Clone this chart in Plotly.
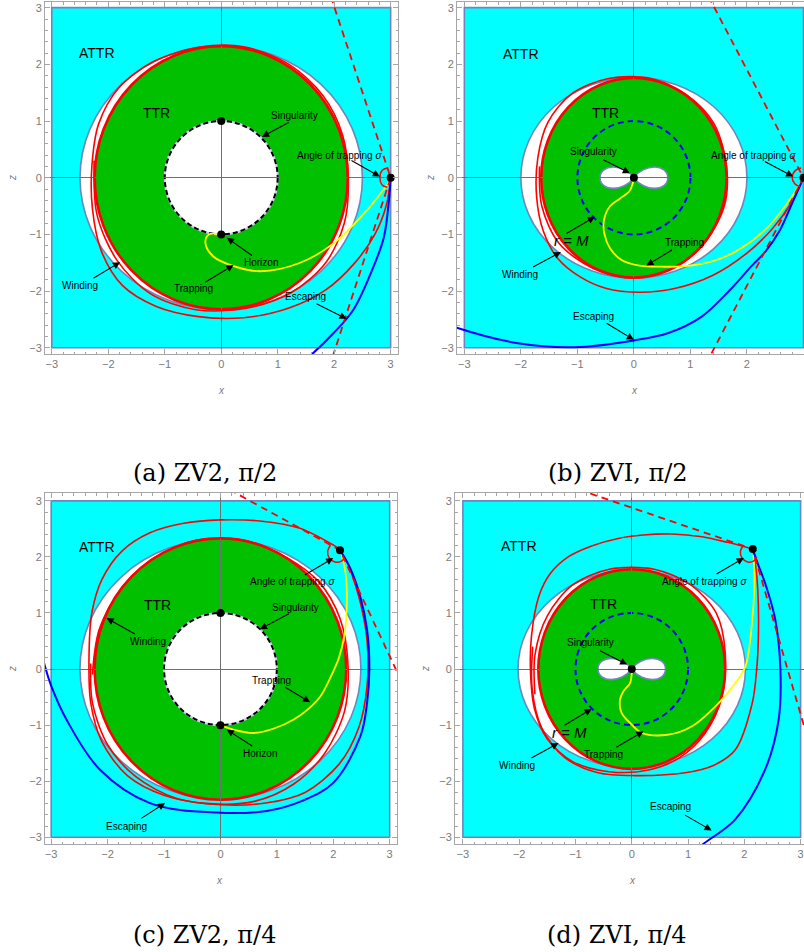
import plotly.graph_objects as go

# ---------------------------------------------------------------- data
panel_ids = ["a", "b", "c", "d"]
captions = ["(a) ZV2, π/2", "(b) ZVI, π/2", "(c) ZV2, π/4", "(d) ZVI, π/4"]
tick_values = [-3, -2, -1, 0, 1, 2, 3]

attr_box = [-3.0, 3.0, -3.0, 3.0]                 # x0, x1, y0, y1 of ATTR region
white_semi_x = [2.50, 2.00, 2.49, 2.02]
white_semi_y = [2.33, 1.77, 2.32, 1.76]
ttr_semi_x = [2.24, 1.64, 2.23, 1.66]
ttr_semi_y = [2.32, 1.76, 2.33, 1.78]
inner_radius = [1.0, 1.0, 1.0, 1.0]
lemni_half_width = [0.0, 0.60, 0.0, 0.60]
lemni_half_height = [0.0, 0.19, 0.0, 0.19]

# --- panel a (ZV2, pi/2)
winding_a_x = [3.0, 2.92, 2.72, 2.35, 1.85, 1.2, 0.4, -0.4, -1.15, -1.75, -2.12, -2.28, -2.29, -2.17, -1.82, -1.2, -0.4, 0.4, 1.2, 1.8, 2.15, 2.25, 2.18, 1.85, 1.25, 0.45, -0.45, -1.25, -1.85, -2.2, -2.25]
winding_a_y = [0.0, -0.5, -1.0, -1.52, -1.98, -2.3, -2.47, -2.45, -2.27, -1.9, -1.3, -0.55, 0.2, 0.95, 1.58, 2.05, 2.3, 2.31, 2.0, 1.45, 0.75, 0.0, -0.8, -1.5, -2.02, -2.3, -2.33, -2.05, -1.45, -0.65, 0.3]
yellow_a_x = [2.97, 2.6, 2.0, 1.4, 0.69, 0.22, -0.14, -0.28, -0.22, 0.0]
yellow_a_y = [-0.08, -0.55, -1.15, -1.5, -1.65, -1.56, -1.39, -1.15, -1.0, -1.0]
blue_a_x = [3.0, 2.97, 2.88, 2.7, 2.34, 1.99, 1.6, 1.5]
blue_a_y = [0.0, -0.4, -1.05, -1.56, -2.33, -2.74, -3.12, -3.2]
dashed_a_x = [1.94, 3.0, 1.96]
dashed_a_y = [3.2, 0.0, -3.2]
arc_a_x = [2.95, 2.85, 2.81, 2.85, 2.94]
arc_a_y = [0.17, 0.13, 0.0, -0.13, -0.17]
dots_a_x = [0.0, 0.0, 3.0]
dots_a_y = [1.0, -1.0, 0.0]
labels_a = [("ATTR", -2.2, 2.2), ("TTR", -1.14, 1.14), ("Singularity", 1.29, 1.1),
            ("Angle of trapping <i>σ</i>", 2.1, 0.39), ("Horizon", 0.7, -1.49),
            ("Trapping", -0.49, -1.95), ("Winding", -2.5, -1.9), ("Escaping", 1.49, -2.09)]
arrows_a = [(1.22, 0.99, 0.72, 0.72), (2.28, 0.32, 2.81, 0.02), (0.57, -1.39, 0.1, -1.06),
            (-0.31, -1.86, 0.22, -1.54), (-2.29, -1.79, -1.79, -1.49), (1.66, -2.21, 2.22, -2.49)]

# --- panel b (ZVI, pi/2)
winding_b_x = [3.0, 2.8, 2.45, 2.0, 1.4, 0.7, 0.1, -0.5, -0.95, -1.35, -1.6, -1.72, -1.7, -1.52, -1.1, -0.45, 0.3, 0.95, 1.42, 1.64, 1.6, 1.25, 0.72, 0.0, -0.72, -1.33, -1.63, -1.67]
winding_b_y = [0.0, -0.42, -0.9, -1.33, -1.72, -1.96, -2.02, -1.95, -1.75, -1.42, -0.95, -0.35, 0.35, 0.98, 1.48, 1.75, 1.75, 1.45, 0.95, 0.2, -0.5, -1.15, -1.58, -1.77, -1.6, -1.15, -0.5, 0.2]
yellow_b_x = [2.95, 2.38, 1.8, 1.4, 0.9, 0.5, 0.1, -0.22, -0.42, -0.52, -0.53, -0.42, -0.25, -0.08, -0.02, 0.0]
yellow_b_y = [-0.1, -0.86, -1.3, -1.47, -1.56, -1.57, -1.55, -1.45, -1.25, -1.0, -0.75, -0.5, -0.37, -0.24, -0.1, 0.0]
blue_b_x = [3.0, 2.8, 2.57, 2.33, 2.08, 1.7, 1.2, 0.61, 0.0, -1.04, -2.05, -3.12, -3.25]
blue_b_y = [0.0, -0.45, -0.95, -1.3, -1.56, -1.98, -2.45, -2.74, -2.87, -2.99, -2.92, -2.65, -2.6]
dashed_b_x = [1.32, 3.0, 1.32]
dashed_b_y = [3.2, 0.0, -3.2]
arc_b_x = [2.96, 2.86, 2.8, 2.85, 2.94]
arc_b_y = [0.17, 0.13, 0.01, -0.11, -0.16]
dots_b_x = [0.0, 3.0]
dots_b_y = [0.0, 0.0]
labels_b = [("ATTR", -1.99, 2.19), ("TTR", -0.5, 1.14), ("Singularity", -0.72, 0.46),
            ("Angle of trapping <i>σ</i>", 2.11, 0.39), ("<i>r</i> = <i>M</i>", -1.1, -1.11),
            ("Winding", -2.02, -1.7), ("Trapping", 0.9, -1.15), ("Escaping", -0.71, -2.45)]
arrows_b = [(-0.57, 0.33, -0.07, 0.08), (2.29, 0.3, 2.82, 0.02), (-1.22, -1.0, -0.69, -0.69),
            (-1.81, -1.59, -1.29, -1.31), (0.7, -1.26, 0.22, -1.55), (-0.51, -2.55, 0.0, -2.86)]

# --- panel c (ZV2, pi/4)
winding_c1_x = [2.12, 1.41, 0.7, 0.0, -0.65, -1.25, -1.75, -2.1, -2.28, -2.33, -2.3, -2.1, -1.65, -1.0, -0.2, 0.6, 1.3, 1.85, 2.2, 2.26, 2.12, 1.75, 1.15, 0.4, -0.4, -1.15, -1.75, -2.15, -2.27]
winding_c1_y = [2.14, 2.51, 2.64, 2.66, 2.6, 2.43, 2.1, 1.6, 1.0, 0.2, -0.6, -1.3, -1.9, -2.25, -2.4, -2.36, -2.05, -1.5, -0.75, 0.1, 0.9, 1.55, 2.0, 2.3, 2.3, 2.0, 1.45, 0.7, -0.1]
winding_c2_x = [2.12, 2.25, 2.36, 2.5, 2.6, 2.6, 2.45, 2.1, 1.5, 0.8, 0.0, -0.8, -1.5, -2.0, -2.27, -2.3]
winding_c2_y = [2.12, 1.9, 1.6, 1.1, 0.5, -0.3, -1.05, -1.7, -2.2, -2.39, -2.42, -2.3, -1.92, -1.35, -0.6, 0.1]
yellow_c_x = [2.14, 2.22, 2.24, 2.2, 2.1, 1.95, 1.77, 1.55, 1.3, 0.95, 0.59, 0.23, 0.0]
yellow_c_y = [2.08, 1.7, 1.18, 0.62, 0.2, -0.15, -0.49, -0.72, -0.9, -1.06, -1.14, -1.08, -1.0]
blue_c_x = [2.12, 2.3, 2.48, 2.6, 2.64, 2.6, 2.48, 2.0, 1.45, 0.82, -0.07, -1.25, -2.14, -2.73, -3.0, -3.11, -3.16]
blue_c_y = [2.12, 1.8, 1.29, 0.7, 0.0, -0.6, -1.2, -2.03, -2.35, -2.53, -2.56, -2.39, -1.79, -0.9, -0.3, 0.05, 0.25]
dashed_c_x = [0.16, 2.12, 3.2]
dashed_c_y = [3.2, 2.12, -0.2]
arc_c_x = [1.95, 1.9, 1.93, 2.03, 2.14, 2.2]
arc_c_y = [2.21, 2.1, 1.98, 1.91, 1.92, 1.98]
dots_c_x = [0.0, 0.0, 2.12]
dots_c_y = [1.0, -1.0, 2.12]
labels_c = [("ATTR", -2.18, 2.18), ("TTR", -1.11, 1.15), ("Angle of trapping <i>σ</i>", 1.27, 1.56),
            ("Singularity", 1.33, 1.1), ("Winding", -1.28, 0.49), ("Trapping", 0.91, -0.2),
            ("Horizon", 0.7, -1.51), ("Escaping", -1.66, -2.8)]
arrows_c = [(1.47, 1.66, 2.0, 1.98), (1.24, 1.0, 0.7, 0.71), (-1.49, 0.61, -2.02, 0.91),
            (1.12, -0.31, 1.59, -0.59), (0.59, -1.39, 0.11, -1.08), (-1.43, -2.68, -0.98, -2.39)]

# --- panel d (ZVI, pi/4)
winding_d1_x = [2.15, 1.7, 1.25, 0.71, 0.2, -0.24, -0.7, -1.13, -1.45, -1.65, -1.78, -1.8, -1.73, -1.5, -1.05, -0.4, 0.3, 0.85, 1.3, 1.6, 1.66, 1.5, 1.05, 0.4, -0.4, -1.05, -1.5, -1.72, -1.72]
winding_d1_y = [2.14, 2.26, 2.36, 2.41, 2.39, 2.33, 2.2, 2.0, 1.7, 1.3, 0.6, 0.0, -0.7, -1.25, -1.65, -1.83, -1.8, -1.58, -1.15, -0.5, 0.3, 1.0, 1.5, 1.78, 1.78, 1.5, 0.95, 0.25, -0.45]
winding_d2_x = [2.15, 2.2, 2.24, 2.25, 2.22, 2.14, 1.84, 1.45, 0.95, 0.06, -0.6, -1.2, -1.6, -1.77, -1.76]
winding_d2_y = [2.14, 1.85, 1.4, 0.58, 0.0, -0.61, -1.44, -1.72, -1.85, -1.9, -1.85, -1.57, -1.05, -0.35, 0.4]
yellow_d_x = [2.16, 2.18, 2.14, 2.02, 1.84, 1.54, 1.07, 0.65, 0.18, 0.0, -0.18, -0.21, -0.15, -0.03, 0.0, 0.0]
yellow_d_y = [2.04, 1.59, 0.88, 0.05, -0.25, -0.61, -1.02, -1.17, -1.14, -0.99, -0.78, -0.55, -0.4, -0.25, -0.08, 0.0]
blue_d_x = [2.15, 2.25, 2.37, 2.55, 2.64, 2.61, 2.37, 1.84, 1.22, 1.15]
blue_d_y = [2.14, 1.85, 1.53, 0.88, 0.0, -0.9, -1.79, -2.68, -3.16, -3.25]
dashed_d_x = [-0.94, 2.15, 3.2]
dashed_d_y = [3.2, 2.14, -1.5]
arc_d_x = [1.98, 1.93, 1.96, 2.06, 2.17, 2.22]
arc_d_y = [2.2, 2.1, 1.98, 1.91, 1.93, 2.0]
dots_d_x = [0.0, 2.15]
dots_d_y = [0.0, 2.14]
labels_d = [("ATTR", -2.0, 2.2), ("TTR", -0.5, 1.16), ("Angle of trapping <i>σ</i>", 1.29, 1.57),
            ("Singularity", -0.73, 0.47), ("<i>r</i> = <i>M</i>", -1.1, -1.13),
            ("Winding", -2.03, -1.72), ("Trapping", -0.5, -1.53), ("Escaping", 0.68, -2.46)]
arrows_d = [(1.48, 1.68, 1.99, 1.98), (-0.59, 0.34, -0.08, 0.08), (-1.22, -1.02, -0.71, -0.71),
            (-1.81, -1.6, -1.3, -1.32), (-0.3, -1.41, 0.21, -1.11), (0.92, -2.59, 1.42, -2.88)]

# ---------------------------------------------------------------- layout geometry (pixels)
W, H = 804, 952
frame_px = {"a": (45, 398, 2, 354), "b": (457, 804, 2, 354),
            "c": (45, 397, 493, 844), "d": (455, 804, 493, 844)}
x_ranges = {"a": (-3.12, 3.13), "b": (-3.13, 3.01), "c": (-3.11, 3.13), "d": (-3.14, 3.06)}
y_ranges = {"a": (-3.11, 3.10), "b": (-3.11, 3.10), "c": (-3.12, 3.14), "d": (-3.12, 3.14)}
right_frame = {"a": True, "b": False, "c": True, "d": False}
xlabel_px = {"a": (221, 390), "b": (634, 390), "c": (220, 880), "d": (632, 880)}
zlabel_px = {"a": (12, 178), "b": (430, 178), "c": (12, 669), "d": (425, 669)}
caption_px = {"a": (205, 473), "b": (618, 473), "c": (205, 935), "d": (617, 935)}

CYAN = "#00ffff"
SLATE = "#6f86bd"
GREEN = "#00c000"
RED = "#ff0000"
YELLOW = "#ffff00"
BLUE = "#0000ff"
FRAME = "#a6a6a6"
SANS = "Liberation Sans, Arial, sans-serif"

data = {
    "a": dict(wind=[(winding_a_x, winding_a_y)], yel=(yellow_a_x, yellow_a_y), blue=(blue_a_x, blue_a_y),
              dash=(dashed_a_x, dashed_a_y), arc=(arc_a_x, arc_a_y), dots=(dots_a_x, dots_a_y),
              labels=labels_a, arrows=arrows_a),
    "b": dict(wind=[(winding_b_x, winding_b_y)], yel=(yellow_b_x, yellow_b_y), blue=(blue_b_x, blue_b_y),
              dash=(dashed_b_x, dashed_b_y), arc=(arc_b_x, arc_b_y), dots=(dots_b_x, dots_b_y),
              labels=labels_b, arrows=arrows_b),
    "c": dict(wind=[(winding_c1_x, winding_c1_y), (winding_c2_x, winding_c2_y)], yel=(yellow_c_x, yellow_c_y),
              blue=(blue_c_x, blue_c_y), dash=(dashed_c_x, dashed_c_y), arc=(arc_c_x, arc_c_y),
              dots=(dots_c_x, dots_c_y), labels=labels_c, arrows=arrows_c),
    "d": dict(wind=[(winding_d1_x, winding_d1_y), (winding_d2_x, winding_d2_y)], yel=(yellow_d_x, yellow_d_y),
              blue=(blue_d_x, blue_d_y), dash=(dashed_d_x, dashed_d_y), arc=(arc_d_x, arc_d_y),
              dots=(dots_d_x, dots_d_y), labels=labels_d, arrows=arrows_d),
}

fig = go.Figure()
layout = dict(width=W, height=H, margin=dict(l=0, r=0, t=0, b=0, pad=0, autoexpand=False),
              paper_bgcolor="white", plot_bgcolor="white", showlegend=False)
shapes, annotations = [], []


def axis(rng, dom, anchor, mirror):
    return dict(range=list(rng), domain=dom, anchor=anchor, autorange=False, fixedrange=True,
                automargin=False,
                showgrid=False, zeroline=True, zerolinecolor="#707070", zerolinewidth=1,
                showline=True, linecolor=FRAME, linewidth=1, mirror=("allticks" if mirror else False),
                ticks="inside", ticklen=5, tickwidth=1, tickcolor=FRAME,
                tickmode="linear", tick0=0, dtick=1,
                tickfont=dict(family=SANS, size=11, color="#7a7a7a"),
                minor=dict(ticks="inside", ticklen=2.5, tickcolor=FRAME, tick0=0, dtick=0.2))


for i, p in enumerate(panel_ids):
    n = "" if i == 0 else str(i + 1)
    xa, ya = "x" + n, "y" + n
    x0p, x1p, y0p, y1p = frame_px[p]
    layout["xaxis" + n] = axis(x_ranges[p], [x0p / W, x1p / W], ya, True)
    layout["yaxis" + n] = axis(y_ranges[p], [1 - y1p / H, 1 - y0p / H], xa, right_frame[p])

    ref = dict(xref=xa, yref=ya, layer="below")
    # ATTR region
    shapes.append(dict(type="rect", x0=attr_box[0], x1=attr_box[1], y0=attr_box[2], y1=attr_box[3],
                       fillcolor=CYAN, line=dict(color=SLATE, width=1.6), **ref))
    # excluded white region
    shapes.append(dict(type="circle", x0=-white_semi_x[i], x1=white_semi_x[i],
                       y0=-white_semi_y[i], y1=white_semi_y[i],
                       fillcolor="white", line=dict(color=SLATE, width=1.6), **ref))
    # TTR region
    shapes.append(dict(type="circle", x0=-ttr_semi_x[i], x1=ttr_semi_x[i],
                       y0=-ttr_semi_y[i], y1=ttr_semi_y[i],
                       fillcolor=GREEN, line=dict(color=RED, width=2.6), **ref))
    r = inner_radius[i]
    if lemni_half_width[i] == 0:
        shapes.append(dict(type="circle", x0=-r, x1=r, y0=-r, y1=r, fillcolor="white",
                           line=dict(color="#c9d2ea", width=2), **ref))
        shapes.append(dict(type="circle", x0=-r, x1=r, y0=-r, y1=r,
                           line=dict(color="black", width=2, dash="5px,3px"), **ref))
    else:
        w, h = lemni_half_width[i], lemni_half_height[i]
        path = (f"M 0,0 C {0.3*w},{1.35*h} {w},{1.3*h} {w},0 C {w},{-1.3*h} {0.3*w},{-1.35*h} 0,0 "
                f"C {-0.3*w},{1.35*h} {-w},{1.3*h} {-w},0 C {-w},{-1.3*h} {-0.3*w},{-1.35*h} 0,0 Z")
        shapes.append(dict(type="path", path=path, fillcolor="white",
                           line=dict(color=SLATE, width=1.6), **ref))
        shapes.append(dict(type="circle", x0=-r, x1=r, y0=-r, y1=r,
                           line=dict(color=BLUE, width=2, dash="6px,4px"), **ref))

    d = data[p]
    common = dict(xaxis=xa, yaxis=ya, hoverinfo="skip", mode="lines")
    for wx, wy in d["wind"]:
        fig.add_trace(go.Scatter(x=wx, y=wy, line=dict(color=RED, width=1.6, shape="spline", smoothing=0.9), **common))
    fig.add_trace(go.Scatter(x=d["yel"][0], y=d["yel"][1],
                             line=dict(color=YELLOW, width=1.8, shape="spline", smoothing=1.0), **common))
    fig.add_trace(go.Scatter(x=d["blue"][0], y=d["blue"][1],
                             line=dict(color=BLUE, width=2.0, shape="spline", smoothing=1.0), **common))
    fig.add_trace(go.Scatter(x=d["dash"][0], y=d["dash"][1],
                             line=dict(color=RED, width=1.8, dash="7px,5px"), **common))
    fig.add_trace(go.Scatter(x=d["arc"][0], y=d["arc"][1],
                             line=dict(color=RED, width=1.5, shape="spline", smoothing=1.0), **common))
    fig.add_trace(go.Scatter(x=d["dots"][0], y=d["dots"][1], mode="markers", xaxis=xa, yaxis=ya,
                             hoverinfo="skip", marker=dict(color="black", size=8)))

    for text, tx, ty in d["labels"]:
        big = text in ("ATTR", "TTR")
        size = 14 if big else (15 if "M" in text else 10)
        annotations.append(dict(x=tx, y=ty, xref=xa, yref=ya, text=text, showarrow=False,
                                xanchor="center", yanchor="middle",
                                font=dict(family=SANS, size=size, color="black")))
    for tx, ty, hx, hy in d["arrows"]:
        annotations.append(dict(x=hx, y=hy, ax=tx, ay=ty, xref=xa, yref=ya, axref=xa, ayref=ya,
                                text="", showarrow=True, arrowhead=2, arrowsize=1.3,
                                arrowwidth=1.1, arrowcolor="black"))

    # axis labels and captions
    lx, ly = xlabel_px[p]
    annotations.append(dict(x=lx / W, y=1 - ly / H, xref="paper", yref="paper", text="<i>x</i>",
                            xanchor="center", yanchor="middle",
                            showarrow=False, font=dict(family=SANS, size=10, color="#7a7a7a")))
    zx, zy = zlabel_px[p]
    annotations.append(dict(x=zx / W, y=1 - zy / H, xref="paper", yref="paper", text="<i>z</i>",
                            xanchor="center", yanchor="middle",
                            showarrow=False, textangle=-90, font=dict(family=SANS, size=10, color="#7a7a7a")))
    cx, cy = caption_px[p]
    annotations.append(dict(x=cx / W, y=1 - cy / H, xref="paper", yref="paper", text=captions[i],
                            xanchor="center", yanchor="middle",
                            showarrow=False, font=dict(family="DejaVu Serif", size=24, color="black")))

layout["shapes"] = shapes
layout["annotations"] = annotations
fig.update_layout(**layout)
fig.write_html("out.html", config={"displayModeBar": False},
               post_script="document.body.style.margin='0px';document.body.style.overflow='hidden';")
